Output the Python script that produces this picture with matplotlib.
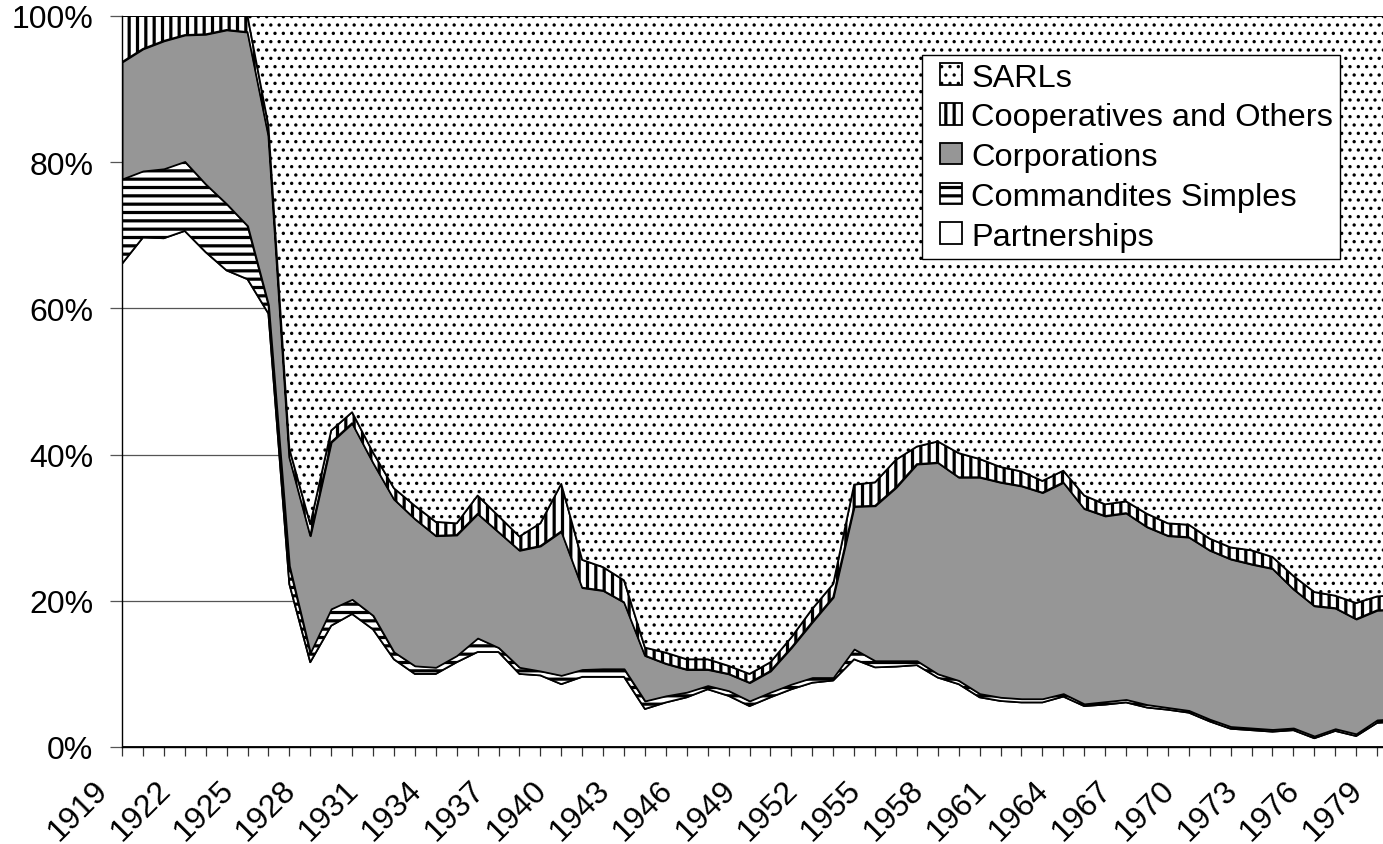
#!/usr/bin/env python3
"""Legal form shares of new French firms, 1919-1980 (100% stacked area)."""
import numpy as np
import matplotlib
matplotlib.use("Agg")
import matplotlib.pyplot as plt
from matplotlib.collections import PolyCollection
from matplotlib.legend_handler import HandlerPolyCollection
from matplotlib.patches import Rectangle

OUT = "out.png"

years = np.arange(1919, 1981)

# shares in % of new firms
partnerships = [66.1, 69.7, 69.6, 70.6, 67.7, 65.2, 64.0, 59.3, 22.3, 11.6,
                16.6, 18.2, 16.1, 12.0, 10.0, 10.0, 11.6, 13.0, 13.0, 10.0,
                9.8, 8.6, 9.6, 9.6, 9.6, 5.2, 6.1, 6.8, 7.9, 7.0,
                5.6, 6.8, 7.9, 8.8, 9.1, 12.0, 10.9, 11.0, 11.2, 9.5,
                8.6, 6.8, 6.3, 6.1, 6.1, 6.9, 5.6, 5.8, 6.1, 5.4,
                5.1, 4.7, 3.5, 2.5, 2.3, 2.1, 2.3, 1.2, 2.2, 1.5,
                3.3, 3.5]
commandites = [11.6, 9.1, 9.5, 9.5, 9.3, 9.1, 7.3, 1.2, 2.5, 1.3,
               2.3, 2.0, 1.9, 1.0, 1.1, 0.9, 0.9, 1.9, 0.6, 0.9,
               0.6, 1.2, 1.0, 1.1, 1.1, 1.1, 0.9, 0.7, 0.5, 0.7,
               0.7, 0.7, 0.7, 0.7, 0.4, 1.4, 0.9, 0.8, 0.6, 0.5,
               0.5, 0.5, 0.5, 0.5, 0.5, 0.4, 0.3, 0.4, 0.4, 0.4,
               0.3, 0.3, 0.3, 0.3, 0.3, 0.3, 0.3, 0.3, 0.3, 0.3,
               0.4, 0.4]
corporations = [16.0, 16.7, 17.5, 17.3, 20.5, 23.8, 26.5, 23.1, 14.8, 16.0,
                22.8, 24.1, 20.9, 20.9, 20.1, 18.0, 16.5, 17.0, 15.8, 16.0,
                17.1, 19.7, 11.2, 10.7, 9.1, 6.2, 4.4, 3.1, 2.2, 2.3,
                2.5, 2.9, 5.0, 7.6, 11.0, 19.5, 21.2, 23.7, 26.9, 28.9,
                27.8, 29.6, 29.4, 29.1, 28.2, 28.9, 26.7, 25.4, 25.5, 24.3,
                23.5, 23.7, 23.1, 22.9, 22.4, 22.0, 19.0, 17.8, 16.5, 15.7,
                15.0, 14.9]
cooperatives = [6.3, 4.5, 3.4, 2.6, 2.5, 1.9, 2.2, 1.4, 1.2, 1.6,
                1.6, 1.5, 1.4, 1.5, 1.8, 1.9, 1.6, 2.5, 2.2, 1.9,
                3.1, 6.5, 3.8, 3.2, 3.0, 1.1, 1.5, 1.4, 1.4, 1.1,
                1.2, 1.2, 1.4, 1.8, 1.8, 3.0, 3.2, 3.8, 2.4, 2.9,
                3.3, 2.5, 2.1, 2.0, 1.6, 1.6, 1.8, 1.6, 1.6, 1.8,
                1.7, 1.7, 1.6, 1.6, 1.9, 1.6, 1.8, 1.9, 1.7, 2.2,
                1.9, 2.0]
sarls = [0, 0, 0, 0, 0, 0, 0, 15.0, 59.2, 69.5,
         56.7, 54.2, 59.7, 64.6, 67.0, 69.2, 69.4, 65.6, 68.4, 71.2,
         69.4, 64.0, 74.4, 75.4, 77.2, 86.4, 87.1, 88.0, 88.0, 88.9,
         90.0, 88.4, 85.0, 81.1, 77.7, 64.1, 63.8, 60.7, 58.9, 58.2,
         59.8, 60.6, 61.7, 62.3, 63.6, 62.2, 65.6, 66.8, 66.4, 68.1,
         69.4, 69.6, 71.5, 72.7, 73.1, 74.0, 76.6, 78.8, 79.3, 80.3,
         79.4, 79.2]

labels = ["Partnerships", "Commandites Simples", "Corporations",
          "Cooperatives and Others", "SARLs"]
label_years = list(range(1919, 1980, 3))


class SquareHandler(HandlerPolyCollection):
    """Small square swatch pushed to the right end of the handle box."""

    def create_artists(self, legend, orig_handle, xdescent, ydescent,
                       width, height, fontsize, trans):
        p = Rectangle((-xdescent + width - height, -ydescent), height, height)
        self.update_prop(p, orig_handle, legend)
        p.set_transform(trans)
        return [p]


def main():
    plt.rcParams["font.family"] = ["Liberation Sans", "DejaVu Sans"]
    plt.rcParams["hatch.linewidth"] = 2.3
    plt.rcParams["hatch.color"] = "black"

    fig = plt.figure(figsize=(13.83, 8.45), dpi=100)
    # plot area runs past the right edge (the source image is cropped)
    ax = fig.add_axes([122 / 1383, 97 / 845, 1276 / 1383, 731 / 845])

    polys = ax.stackplot(years, partnerships, commandites, corporations,
                         cooperatives, sarls,
                         colors=["none", "white", "#969696", "white", "white"],
                         hatch=[None, "--", None, "||", ".."],
                         edgecolor="black", linewidth=1.3, labels=labels)
    if hasattr(polys[4], "set_hatch_linewidth"):
        polys[4].set_hatch_linewidth(1.2)

    ax.set_xlim(1919, 1980)
    ax.set_ylim(0, 100)
    ax.set_yticks(np.arange(0, 101, 20))
    ax.set_yticklabels([f"{v}%" for v in range(0, 101, 20)])
    ax.set_axisbelow(True)
    ax.yaxis.grid(True, color="#555555", lw=0.9)
    ax.tick_params(axis="y", length=8.6, width=0.9, color="#555555",
                   pad=12, labelsize=23)

    ax.set_xticks(years)
    ax.set_xticklabels([])
    ax.tick_params(axis="x", length=6.5, width=0.9, color="#333333")
    for yr in label_years:
        ax.annotate(str(yr), xy=(yr, 0), xycoords=("data", "axes fraction"),
                    xytext=(-9.4, -31.7), textcoords="offset points",
                    rotation=45, rotation_mode="anchor",
                    ha="right", va="baseline", fontsize=23)

    for side in ("top", "right"):
        ax.spines[side].set_visible(False)
    for side in ("left", "bottom"):
        ax.spines[side].set_color("black")
        ax.spines[side].set_linewidth(1.0)

    h, l = ax.get_legend_handles_labels()
    leg = ax.legend(h[::-1], l[::-1], loc="upper left",
                    bbox_to_anchor=(0.627, 0.946), borderaxespad=0,
                    fontsize=23.4, frameon=True, fancybox=False,
                    framealpha=1, edgecolor="black", handlelength=1.0,
                    handleheight=0.64, handletextpad=0.3, labelspacing=0.3,
                    borderpad=0.22,
                    handler_map={PolyCollection: SquareHandler()})
    leg.get_frame().set_linewidth(1.0)
    for p in leg.get_patches():
        if p.get_hatch() == ".." and hasattr(p, "set_hatch_linewidth"):
            p.set_hatch_linewidth(1.2)

    fig.savefig(OUT, dpi=100)


if __name__ == "__main__":
    main()
